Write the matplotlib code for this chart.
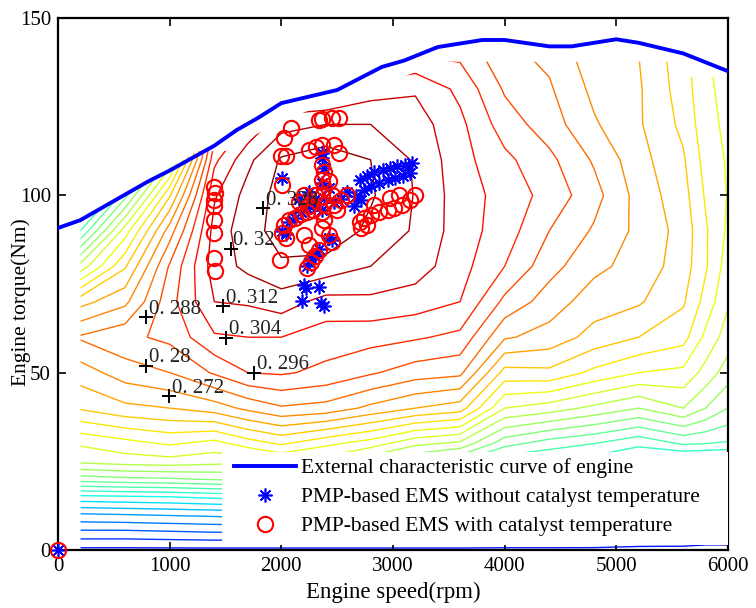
import numpy as np
import matplotlib
matplotlib.use("Agg")
import matplotlib.pyplot as plt
from matplotlib.lines import Line2D
from matplotlib.patches import Polygon, Rectangle

plt.rcParams['font.family'] = ['Liberation Serif', 'DejaVu Serif']

# efficiency map grid
speeds = [200, 600, 1000, 1400, 1700, 2000, 2400, 2800, 3200, 3600,
          4000, 4400, 4800, 5200, 5600, 5800, 6000]
torques = [0, 5, 10, 15, 20, 25, 30, 40, 50, 60, 70, 80, 90, 100, 110, 120, 130, 140]

# one row per speed, values along torques
eff_by_speed = [
    [.118, .134, .151, .174, .204, .226, .233, .257, .268, .281, .261, .227, .192, .160, .130, .120, .120, .120],
    [.118, .134, .152, .175, .206, .228, .237, .262, .276, .286, .270, .255, .236, .205, .170, .140, .120, .120],
    [.118, .135, .153, .176, .207, .229, .241, .264, .280, .290, .293, .289, .276, .255, .225, .200, .180, .160],
    [.118, .136, .154, .178, .209, .227, .237, .268, .289, .303, .312, .316, .315, .311, .302, .290, .270, .250],
    [.118, .136, .155, .179, .210, .226, .244, .274, .296, .304, .313, .322, .325, .323, .318, .305, .290, .270],
    [.118, .136, .155, .180, .212, .232, .249, .279, .297, .304, .316, .327, .331, .331, .329, .317, .300, .280],
    [.118, .136, .155, .180, .210, .228, .242, .277, .294, .300, .309, .325, .334, .335, .333, .320, .300, .280],
    [.118, .136, .155, .178, .205, .218, .236, .270, .289, .299, .310, .320, .326, .329, .328, .320, .308, .290],
    [.118, .136, .152, .172, .195, .208, .226, .264, .284, .297, .308, .316, .319, .3195, .319, .316, .311, .295],
    [.118, .136, .150, .168, .188, .200, .222, .260, .282, .294, .304, .307, .308, .308, .307, .306, .302, .294],
    [.118, .134, .149, .164, .178, .186, .203, .232, .253, .273, .286, .296, .300, .301, .298, .292, .287, .282],
    [.118, .134, .148, .162, .175, .184, .196, .228, .254, .269, .276, .283, .288, .293, .290, .284, .281, .278],
    [.118, .133, .146, .158, .170, .180, .192, .222, .246, .261, .268, .274, .279, .283, .279, .273, .270, .267],
    [.117, .132, .144, .155, .166, .175, .186, .216, .240, .256, .265, .269, .270, .269, .267, .265, .265, .264],
    [.117, .131, .142, .152, .162, .172, .193, .224, .238, .251, .257, .260, .261, .259, .257, .254, .252, .251],
    [.116, .130, .141, .151, .161, .171, .192, .216, .229, .238, .245, .249, .249, .247, .245, .243, .242, .241],
    [.116, .130, .140, .150, .160, .170, .191, .208, .220, .228, .233, .236, .2385, .2395, .239, .238, .237, .236],
]

# upper edge of the map data
mask_speed = [200, 1250, 1500, 2000, 2600, 3000, 3400, 5600, 5650, 6000]
mask_torque = [93, 112.5, 112.5, 121, 128, 132, 137.7, 137.7, 133.4, 133.4]

# external characteristic curve
curve_speed = [0, 200, 800, 1000, 1400, 1600, 1800, 2000, 2500, 2900, 3100, 3400,
               3800, 4000, 4400, 4600, 5000, 5200, 5600, 6000]
curve_torque = [90.8, 93, 103.8, 107, 114, 118.4, 122, 126, 129.7, 136.2, 138, 141.8,
                143.8, 143.8, 142, 142, 144, 143, 140, 135]

# PMP-based EMS with catalyst temperature (red circles)
red_speed = [0,
             1400, 1408, 1400, 1400, 1400, 1400, 1400, 1408,
             1991, 2009, 2000, 2045, 2027, 2090,
             2251, 2314, 2368, 2475, 2520, 2341, 2368, 2457, 2520,
             2368, 2386, 2368, 2386, 2368, 2386, 2368, 2386, 2368,
             2027, 2072, 2126, 2179, 2233, 2287, 2475, 2538, 2592,
             2009, 2045, 2430, 2457, 2341, 2305, 2269, 2233,
             2700, 2744, 2807, 2879, 2951, 3013, 3085, 3148, 3193, 2834, 2969, 3058, 2717, 2771,
             2161, 2206, 2250, 2300, 2430, 2457, 2500, 2206, 2251]
red_torque = [0,
              102.3, 100.6, 98.7, 97.0, 93.0, 89.4, 82.3, 78.7,
              81.8, 102.9, 111.1, 111.1, 116.2, 119.0,
              112.8, 113.6, 114.2, 114.2, 111.9, 121.2, 121.5, 121.8, 121.8,
              108.5, 106.6, 104.3, 102.0, 99.8, 97.5, 95.3, 93.0, 90.8,
              91.6, 93.0, 93.6, 94.7, 95.3, 95.9, 97.3, 98.7, 100.1,
              89.4, 88.0, 88.8, 86.8, 84.6, 82.9, 81.2, 79.5,
              92.5, 93.6, 94.4, 95.3, 95.9, 96.4, 97.3, 98.7, 100.1, 97.3, 99.2, 100.1, 90.8, 91.6,
              98.0, 100.0, 97.0, 100.0, 104.0, 100.0, 96.0, 88.8, 86.0]

# PMP-based EMS without catalyst temperature (blue asterisks)
blue_speed = [0, 2009,
              2700, 2771, 2834, 2906, 2969, 3040, 3103, 3166, 2744, 2807, 2879, 2951, 3022, 3094, 3148,
              2673, 2717, 2655,
              2206, 2341, 2188, 2359, 2386, 2224,
              2368, 2386, 2368, 2386, 2368, 2072, 2126, 2179, 2233, 2287, 2457, 2430, 2341, 2305,
              2269, 2233, 2475, 2538, 2592, 2045, 2009, 2161, 2250, 2300, 2430, 2368]
blue_torque = [0, 104.9,
               104.3, 105.4, 106.6, 107.1, 107.7, 108.3, 108.5, 109.1, 101.5, 102.6, 103.5, 104.3, 104.9, 105.4, 106.3,
               99.8, 98.7, 97.0,
               74.7, 74.1, 70.2, 69.6, 68.8, 73.9,
               110.5, 107.7, 103.5, 99.2, 95.9, 92.5, 93.6, 95.3, 96.4, 97.0, 87.4, 88.0, 85.0, 83.0,
               82.0, 80.0, 98.0, 99.0, 101.0, 89.0, 90.0, 99.0, 101.0, 99.0, 102.0, 112.0]

# contour labels
label_text = ['0. 328', '0. 32', '0. 312', '0. 304', '0. 296', '0. 288', '0. 28', '0. 272']
label_speed = [1840, 1545, 1480, 1507, 1758, 789, 789, 996]
label_torque = [96.4, 85.0, 68.8, 59.8, 50.0, 65.7, 51.9, 43.4]

fig = plt.figure(figsize=(7.56, 6.08), dpi=100)
ax = fig.add_axes([58 / 756, 1 - 550 / 608, 670 / 756, 532 / 608])

S, T = np.meshgrid(speeds, torques)
Z = np.array(eff_by_speed).T
levels = np.round(0.12 + 0.008 * np.arange(28), 3)
cs = ax.contour(S, T, Z, levels=levels, cmap='jet', vmin=0.084, vmax=0.33,
                linewidths=1.0, zorder=1)
clip = Polygon(list(zip(mask_speed, mask_torque)) + [(6000, -5), (200, -5)],
               closed=True, transform=ax.transData)
cs.set_clip_path(clip)

ax.plot(curve_speed, curve_torque, color='#0000ff', lw=2.8, zorder=3)

star = (8, 2, 0)
ax.plot(blue_speed, blue_torque, ls='none', marker=star, ms=10, mew=1.2,
        color='#0000ff', zorder=4, clip_on=False)
ax.plot(red_speed, red_torque, ls='none', marker='o', ms=11, mew=1.5,
        mfc='none', mec='#ff0000', zorder=5, clip_on=False)

for txt, s, t in zip(label_text, label_speed, label_torque):
    ax.plot(s, t, marker='+', color='k', ms=10, mew=1.4, zorder=6)
    ax.annotate(txt, (s, t), xytext=(2, 2.5), textcoords='offset points',
                ha='left', va='baseline', fontsize=15, color='#222222', zorder=6)

# white legend box
ax.add_patch(Rectangle((164 / 670, 5 / 532), 1 - 164 / 670, 93 / 532,
                       transform=ax.transAxes, facecolor='white', edgecolor='none', zorder=7))
handles = [
    Line2D([], [], color='#0000ff', lw=2.8),
    Line2D([], [], ls='none', marker=star, ms=10, mew=1.2, color='#0000ff'),
    Line2D([], [], ls='none', marker='o', ms=11, mew=1.5, mfc='none', mec='#ff0000'),
]
leg = ax.legend(handles, ['External characteristic curve of engine',
                          'PMP-based EMS without catalyst temperature',
                          'PMP-based EMS with catalyst temperature'],
                loc='upper left', bbox_to_anchor=(176 / 670, 92 / 532), borderaxespad=0,
                borderpad=0, frameon=False, fontsize=15.5, handlelength=2.9,
                handletextpad=0.2, labelspacing=0.42)
leg.set_zorder(8)

ax.set_xlim(0, 6000)
ax.set_ylim(0, 150)
ax.set_xticks(range(0, 6001, 1000))
ax.set_yticks([0, 50, 100, 150])
ax.tick_params(direction='in', top=True, right=True, length=6, width=1.2,
               labelsize=15, pad=5)
for sp in ax.spines.values():
    sp.set_linewidth(1.6)
ax.set_xlabel('Engine speed(rpm)', fontsize=16.5)
ax.set_ylabel('Engine torque(Nm)', fontsize=15.5)
ax.xaxis.set_label_coords(0.5, -32 / 532)
ax.yaxis.set_label_coords(-27 / 670, 0.465)

fig.savefig('out.png', dpi=100)
